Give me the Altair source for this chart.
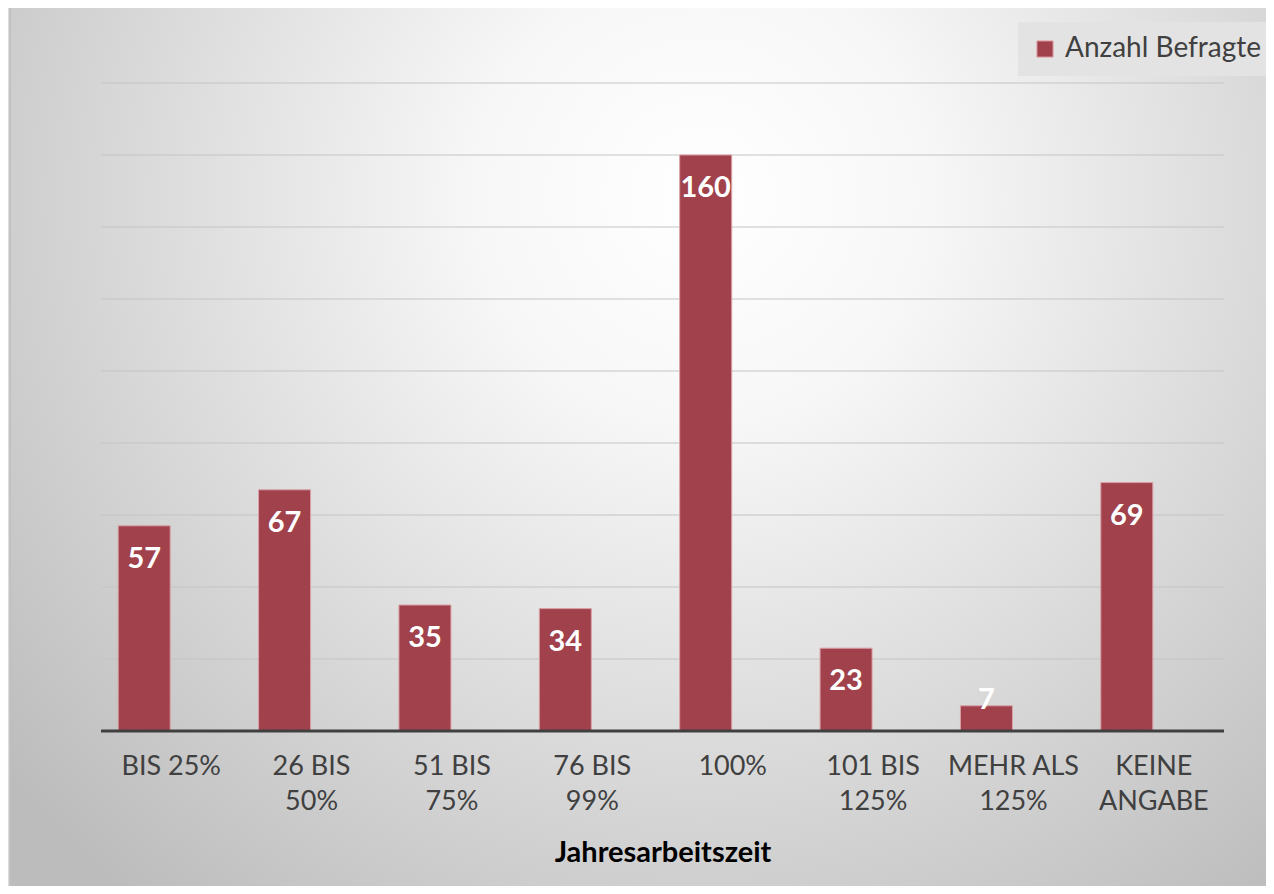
import altair as alt
import pandas as pd

categories = ["BIS 25%", "26 BIS\n50%", "51 BIS\n75%", "76 BIS\n99%", "100%",
              "101 BIS\n125%", "MEHR ALS\n125%", "KEINE\nANGABE"]
values = [57, 67, 35, 34, 160, 23, 7, 69]
series_name = "Anzahl Befragte"
grid_values = [20, 40, 60, 80, 100, 120, 140, 160, 180]

df = pd.DataFrame({"cat": categories, "value": values, "series": series_name})
grid_df = pd.DataFrame({"g": grid_values})

BAR = "#A0414B"
W, H = 1123, 648

xenc = alt.X("cat:N", sort=categories, title="Jahresarbeitszeit",
             scale=alt.Scale(paddingInner=0.0, paddingOuter=0.0),
             axis=alt.Axis(labelAngle=0, labelExpr="split(datum.label, '\\n')",
                           labelFont="Lato", labelFontSize=27, labelColor="#404040",
                           labelLineHeight=35, labelPadding=22, ticks=False, domain=False,
                           titleFont="Lato", titleFontSize=29, titleFontWeight="bold",
                           titleColor="#000000", titlePadding=24, zindex=2))
yscale = alt.Scale(domain=[0, 180], nice=False)

bg = alt.Chart(alt.Data(values=[{"a": 1}])).mark_rect(
    fill=alt.Gradient(gradient="radial",
                      stops=[alt.GradientStop(offset=0, color="#ffffff"),
                             alt.GradientStop(offset=0.25, color="#f7f7f7"),
                             alt.GradientStop(offset=1, color="#bcbcbc")],
                      x1=0.55, y1=0.3, x2=0.55, y2=0.3, r1=0, r2=0.72),
    stroke="#bdbdbd", strokeWidth=1.5
).encode(x=alt.value(-91), x2=alt.value(1168), y=alt.value(-78), y2=alt.value(806))

grid = alt.Chart(grid_df).mark_rule(color="#c4c4c4", strokeWidth=1).encode(
    y=alt.Y("g:Q", scale=yscale, axis=None), x=alt.value(0), x2=alt.value(W))

bars = alt.Chart(df).mark_bar(size=52, xOffset=-27, stroke="#d9a0a6", strokeWidth=1).encode(
    x=xenc,
    y=alt.Y("value:Q", scale=yscale, axis=None),
    color=alt.Color("series:N", scale=alt.Scale(range=[BAR]),
                    legend=alt.Legend(title=None, orient="none", legendX=917, legendY=-61,
                                      fillColor="#e3e3e3", padding=13, symbolType="square",
                                      symbolSize=260, symbolStrokeColor="#e0a0a8",
                                      symbolStrokeWidth=1, labelFont="Lato",
                                      labelFontSize=28, labelColor="#404040",
                                      labelOffset=6, labelLimit=400, zindex=3)))

baseline = alt.Chart(alt.Data(values=[{"z": 0}])).mark_rule(color="#404040", strokeWidth=3).encode(
    y=alt.Y("z:Q", scale=yscale, axis=None), x=alt.value(0), x2=alt.value(W))

txt_big = alt.Chart(df).transform_filter("datum.value >= 10").mark_text(
    font="Lato", fontSize=29, fontWeight="bold", color="white", baseline="middle",
    dy=33, xOffset=-27).encode(
    x=alt.X("cat:N", sort=categories), y=alt.Y("value:Q", scale=yscale), text="value:Q")

txt_small = alt.Chart(df).transform_filter("datum.value < 10").mark_text(
    font="Lato", fontSize=29, fontWeight="bold", color="white", baseline="middle",
    dy=-6, xOffset=-27).encode(
    x=alt.X("cat:N", sort=categories), y=alt.Y("value:Q", scale=yscale), text="value:Q")

chart = alt.layer(bg, grid, bars, baseline, txt_big, txt_small).properties(
    width=W, height=H,
    autosize=alt.AutoSizeParams(type="none"),
    padding={"left": 93, "top": 75, "right": 42, "bottom": 155},
    background="#dcdcdc"
).configure_view(stroke=None)

chart.save("out.html", embed_options={"renderer": "svg", "actions": False})
